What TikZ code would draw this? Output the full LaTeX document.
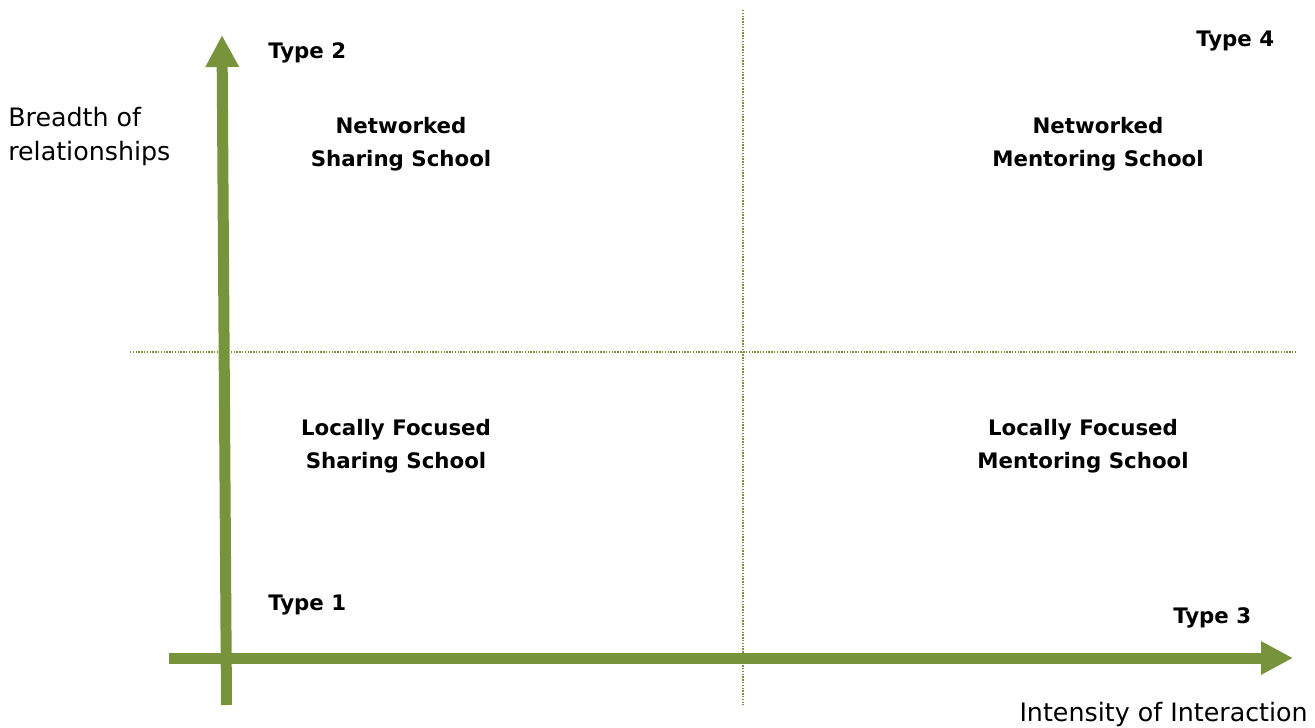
\documentclass[tikz,border=0pt]{standalone}
\usepackage{fontspec}
\setmainfont{DejaVu Sans}
\usetikzlibrary{arrows.meta}

\definecolor{olive}{HTML}{77933C}

\begin{document}
\begin{tikzpicture}[x=0.75pt,y=-0.75pt,
    axis/.style={draw=olive,line width=8.25pt,-{Triangle[width=23.5pt,length=24pt]}},
    divider/.style={draw=olive,line width=1.1pt,dash pattern=on 1pt off 1.1pt},
    quadrant/.style={inner sep=0pt,align=center,font=\fontsize{16}{24.75}\selectfont\bfseries},
    typelabel/.style={inner sep=0pt,font=\fontsize{16}{19}\selectfont\bfseries},
    axislabel/.style={inner sep=0pt,align=left,font=\fontsize{19}{25.5}\selectfont}]
  \useasboundingbox (0,0) rectangle (1315,728);

  \coordinate [] (ybot) at (226.5,705);
  \coordinate [] (ytop) at (222,35);
  \coordinate [] (xleft) at (169,658);
  \coordinate [] (xright) at (1293,658);
  \coordinate [] (hl) at (130,352);
  \coordinate [] (hr) at (1295,352);
  \coordinate [] (vt) at (743,10);
  \coordinate [] (vb) at (743,705);

  % dotted quadrant lines
  \draw[divider] (hl) -- (hr);
  \draw[divider] (vt) -- (vb);

  % axes
  \draw[axis] (ybot) -- (ytop);
  \draw[axis] (xleft) -- (xright);

  \node[axislabel, anchor=north west] (breadth) at (8,107) {Breadth of\\relationships};
  \node[axislabel, anchor=base east] (intensity) at (1308,721) {Intensity of Interaction};

  \node[typelabel, anchor=west] (t1) at (268,605) {Type 1};
  \node[typelabel, anchor=west] (t2) at (268,53) {Type 2};
  \node[typelabel, anchor=west] (t3) at (1173,618) {Type 3};
  \node[typelabel, anchor=west] (t4) at (1196,41) {Type 4};

  \node[quadrant] (netshare) at (401,144) {Networked\\Sharing School};
  \node[quadrant] (netmentor) at (1098,144) {Networked\\Mentoring School};
  \node[quadrant] (locshare) at (396,446) {Locally Focused\\Sharing School};
  \node[quadrant] (locmentor) at (1083,446) {Locally Focused\\Mentoring School};

\end{tikzpicture}
\end{document}
